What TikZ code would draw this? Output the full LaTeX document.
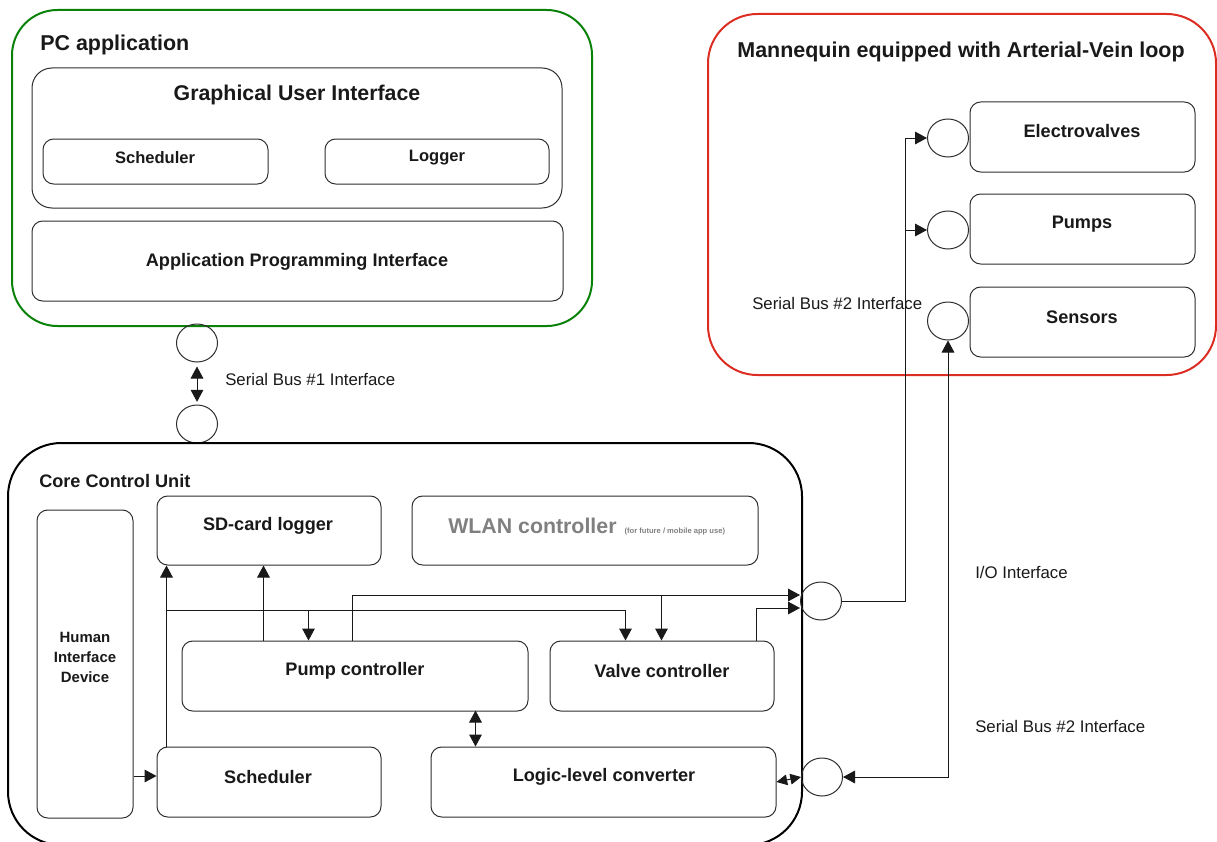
\documentclass[tikz,border=0pt]{standalone}
\usepackage{fontspec}
\setmainfont{Liberation Sans}
\usetikzlibrary{arrows.meta,shapes.geometric,fit,calc}
\definecolor{pcgreen}{RGB}{10,130,10}
\definecolor{manred}{RGB}{220,45,35}
\definecolor{wgray}{RGB}{128,128,128}
\definecolor{edge}{RGB}{45,45,45}
\begin{document}
\begin{tikzpicture}[x=0.75pt,y=-0.75pt,
  box/.style={draw=edge, line width=0.75pt, rounded corners=8pt, inner sep=0pt},
  port/.style={draw=edge, ellipse, line width=0.75pt, minimum width=30.75pt, minimum height=28.5pt, inner sep=0pt},
  con/.style={draw=black!90, line width=0.75pt},
  arr/.style={con, -{Triangle[length=9pt,width=9.5pt]}},
  darr/.style={con, {Triangle[length=9pt,width=9.5pt]}-{Triangle[length=9pt,width=9.5pt]}},
  sarr/.style={con, {Triangle[length=8pt,width=8pt]}-{Triangle[length=8pt,width=8pt]}},
  titlef/.style={font=\bfseries\fontsize{16.1}{19}\selectfont, text=black!90},
  bigf/.style={font=\bfseries\fontsize{16}{19}\selectfont, text=black!90},
  midf/.style={font=\bfseries\fontsize{13.6}{16}\selectfont, text=black!90},
  smallf/.style={font=\bfseries\fontsize{12.4}{15}\selectfont, text=black!90},
  hidf/.style={font=\bfseries\fontsize{11.2}{15}\selectfont, align=center, text=black!90},
  plainf/.style={font=\fontsize{12.6}{15}\selectfont, text=black!90},
]
\useasboundingbox (0,0) rectangle (1217,842);
\clip (0,0) rectangle (1217,842);

% ---------- PC application ----------
\node[draw=pcgreen, line width=1.5pt, rounded corners=34pt, inner sep=0pt, fit={(12,10)(592,326)}] (pc) {};
\node[box, rounded corners=15pt, fit={(32,68)(562,208)}] (gui) {};
\node[box, fit={(43,139)(268,184)}] (gsched) {};
\node[box, fit={(325,139)(549,184)}] (glog) {};
\node[box, fit={(32,221)(563,301)}] (api) {};

\node[titlef, anchor=west, inner sep=0pt] (pct) at (40,45) {PC application};
\node[bigf] (guit) at (297,95) {Graphical User Interface};
\node[smallf] (gschedt) at (155,158) {Scheduler};
\node[smallf] (glogt) at (437,158) {Logger};
\node[midf] (apit) at (297,262) {Application Programming Interface};

% ---------- Serial bus #1 ----------
\node[port] (p1) at (197,343) {};
\node[port] (p2) at (197,424) {};
\draw[darr, shorten <=3pt, shorten >=2pt] (p1) -- (p2);
\node[plainf, anchor=west, inner sep=0pt] (sb1) at (225,379) {Serial Bus \#1 Interface};

% ---------- Core Control Unit ----------
\node[draw=black, line width=1.5pt, rounded corners=40pt, inner sep=0pt, fit={(8,443)(802,845)}] (core) {};
\node[box, fit={(37,510)(133,818)}] (hid) {};
\node[box, fit={(157,496)(381,565)}] (sd) {};
\node[box, fit={(412,496)(758,565)}] (wlan) {};
\node[box, fit={(182,641)(528,711)}] (pump) {};
\node[box, fit={(550,641)(774,711)}] (valve) {};
\node[box, fit={(157,747)(381,817)}] (sched) {};
\node[box, fit={(431,747)(776,817)}] (llc) {};

\node[midf, anchor=west, inner sep=0pt] (coret) at (39,481) {Core Control Unit};
\node[hidf] (hidt) at (85,657) {Human\\Interface\\Device};
\node[midf] (sdt) at (268,526) {SD-card logger};
\node[font=\bfseries\fontsize{16}{19}\selectfont, text=wgray, anchor=base west, inner sep=0pt] (wlant) at (448,533) {WLAN controller {\fontsize{5.7}{7}\selectfont\ (for future / mobile app use)}};
\node[midf] (pumpt) at (355,671) {Pump controller};
\node[midf] (valvet) at (662,671) {Valve controller};
\node[midf] (schedt) at (268,777) {Scheduler};
\node[midf] (llct) at (604,777) {Logic-level converter};

% ports of the core unit
\node[port] (io) at (821,601) {};
\node[port] (pl) at (822,777) {};

% ---------- Mannequin ----------
\node[draw=manred, line width=1.5pt, rounded corners=37pt, inner sep=0pt, fit={(708,14)(1216,375)}] (man) {};
\node[box, fit={(970,102)(1195,172)}] (ev) {};
\node[box, fit={(970,194)(1195,264)}] (pumps) {};
\node[box, fit={(970,287)(1195,357)}] (sens) {};
\node[port] (pe) at (948,138) {};
\node[port] (pp) at (948,230) {};
\node[port] (ps) at (948,321) {};

\node[titlef] (mant) at (961,52) {Mannequin equipped with Arterial-Vein loop};
\node[midf] (evt) at (1082,131) {Electrovalves};
\node[midf] (pumpst) at (1082,224) {Pumps};
\node[midf] (senst) at (1082,317) {Sensors};
\node[plainf, anchor=west, inner sep=0pt] (sb2a) at (752,303) {Serial Bus \#2 Interface};
\node[plainf, anchor=west, inner sep=0pt] (iot) at (975,572) {I/O Interface};
\node[plainf, anchor=west, inner sep=0pt] (sb2b) at (975,726) {Serial Bus \#2 Interface};

% ---------- connectors ----------
% scheduler -> SD-card logger
\draw[arr] ($(sched.north west)+(10,0)$) -- ($(sd.south west)+(10,0)$);
% scheduler -> valve controller (via y=611) and -> pump controller
\draw[arr] ($(sched.north west)+(10,-136)$) -| ($(valve.north west)+(76,0)$);
\draw[arr] ($(pump.north west)+(127,-30)$) -- ($(pump.north west)+(127,0)$);
% pump controller -> SD-card logger
\draw[arr] ($(pump.north west)+(82,0)$) -- ($(sd.south west)+(107,0)$);
% pump controller -> I/O port, branch to valve controller
\draw[arr] ($(pump.north west)+(171,0)$) |- ($(io.west)+(0,-6)$);
\draw[arr] ($(valve.north west)+(112,-46)$) -- ($(valve.north west)+(112,0)$);
% valve controller -> I/O port
\draw[arr] ($(valve.north west)+(207,0)$) |- ($(io.west)+(0,7)$);
% I/O port -> electrovalves & pumps ports
\draw[arr] (io.east) -| ($(pe.west)+(-22,0)$) -- (pe.west);
\draw[arr] ($(pp.west)+(-22,0)$) -- (pp.west);
% sensors port <-> logic-level port
\draw[darr] (ps.south) |- (pl.east);
% logic-level converter <-> port
\draw[sarr] (llc.east) -- (pl.west);
% pump controller <-> logic-level converter
\draw[darr] ($(llc.north west)+(45,-36)$) -- ($(llc.north west)+(45,0)$);
% HID -> scheduler
\draw[arr] ($(hid.east |- sched.west)+(0,-6)$) -- ($(sched.west)+(0,-6)$);
\end{tikzpicture}
\end{document}
